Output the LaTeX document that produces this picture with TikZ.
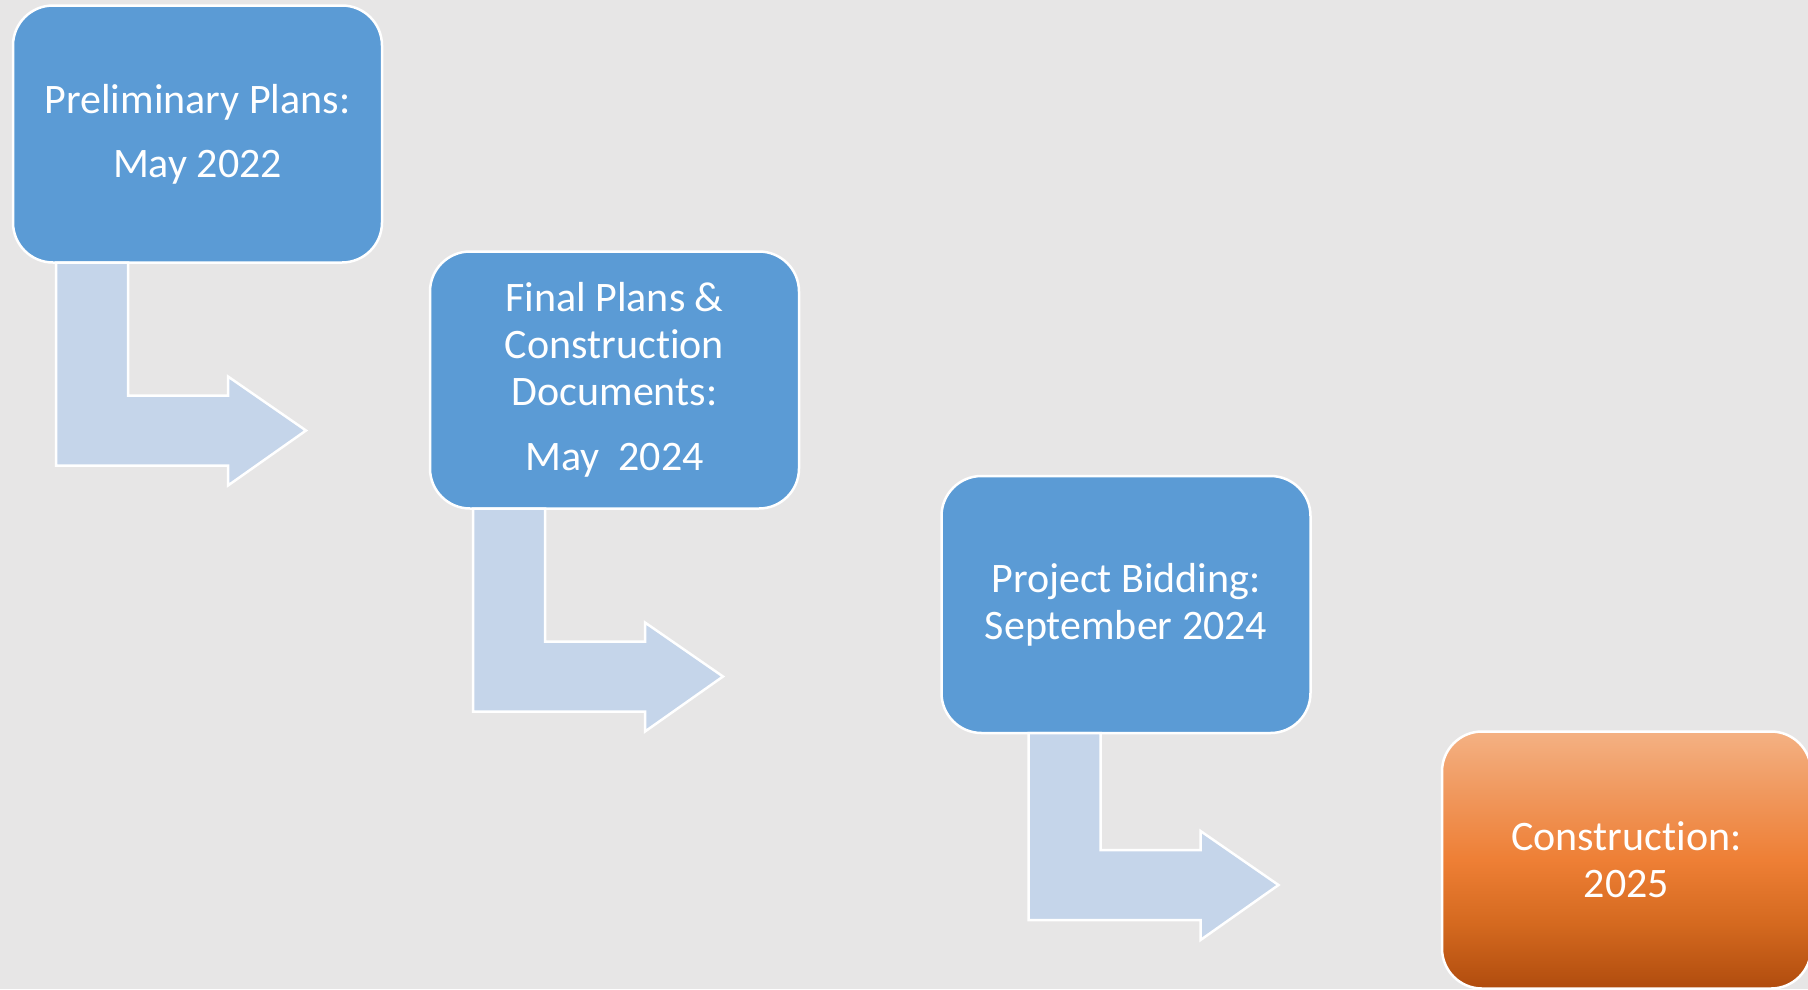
\documentclass[tikz,border=0pt]{standalone}
\usepackage{fontspec}
\setmainfont{Carlito}[Ligatures=NoCommon]
\usetikzlibrary{calc}
\definecolor{bggray}{HTML}{E7E6E6}
\definecolor{stepblue}{HTML}{5B9BD5}
\definecolor{arrowblue}{HTML}{C5D5EA}
\definecolor{orangetop}{HTML}{F4B183}
\definecolor{orangeup}{HTML}{F0975C}
\definecolor{orangemid}{HTML}{EE7F35}
\definecolor{orangelow}{HTML}{D4691F}
\definecolor{orangebot}{HTML}{B04C0E}
\pgfdeclareverticalshading{orangefade}{100bp}{color(0bp)=(orangebot); color(25bp)=(orangebot); color(37.5bp)=(orangelow); color(50bp)=(orangemid); color(62.5bp)=(orangeup); color(75bp)=(orangetop); color(100bp)=(orangetop)}
% bent arrow: start (top left of stem), stem length
\newcommand{\bentarrow}[2]{\draw[bent] (#1) -- ++(72,0) -- ++(0,#2) -- ++(100,0) -- ++(0,-19) -- ++(78,54) -- ++(-78,55) -- ++(0,-20) -- ++(-172,0) -- cycle;}
\begin{document}
\begin{tikzpicture}[x=1pt,y=-1pt,
	stepbox/.style={draw=white,line width=2.5pt,fill=stepblue,rounded corners=40pt,minimum width=369pt,minimum height=257pt,inner sep=0pt,outer sep=0pt,align=center,text=white,font=\fontsize{42pt}{47pt}\selectfont},
	bent/.style={draw=white,line width=2.5pt,fill=arrowblue}]
	\useasboundingbox (0,0) rectangle (1808,989);
	\fill[bggray] (0,0) rectangle (1808,989);
	\node[stepbox] (prelim) at (197.5,134) {Preliminary Plans:\\[17pt]May 2022};
	\node[stepbox] (final) at (614.5,380) {Final Plans \&\\Construction\\Documents:\\[18pt]May\ \ 2024};
	\node[stepbox] (bid) at (1126,604.5) {Project Bidding:\\September 2024};
	\node[stepbox,shading=orangefade] (build) at (1626.5,860) {Construction:\\2025};
	\bentarrow{[xshift=43pt]prelim.south west}{133}
	\bentarrow{[xshift=43pt]final.south west}{133}
	\bentarrow{[xshift=87pt]bid.south west}{117}
\end{tikzpicture}
\end{document}
